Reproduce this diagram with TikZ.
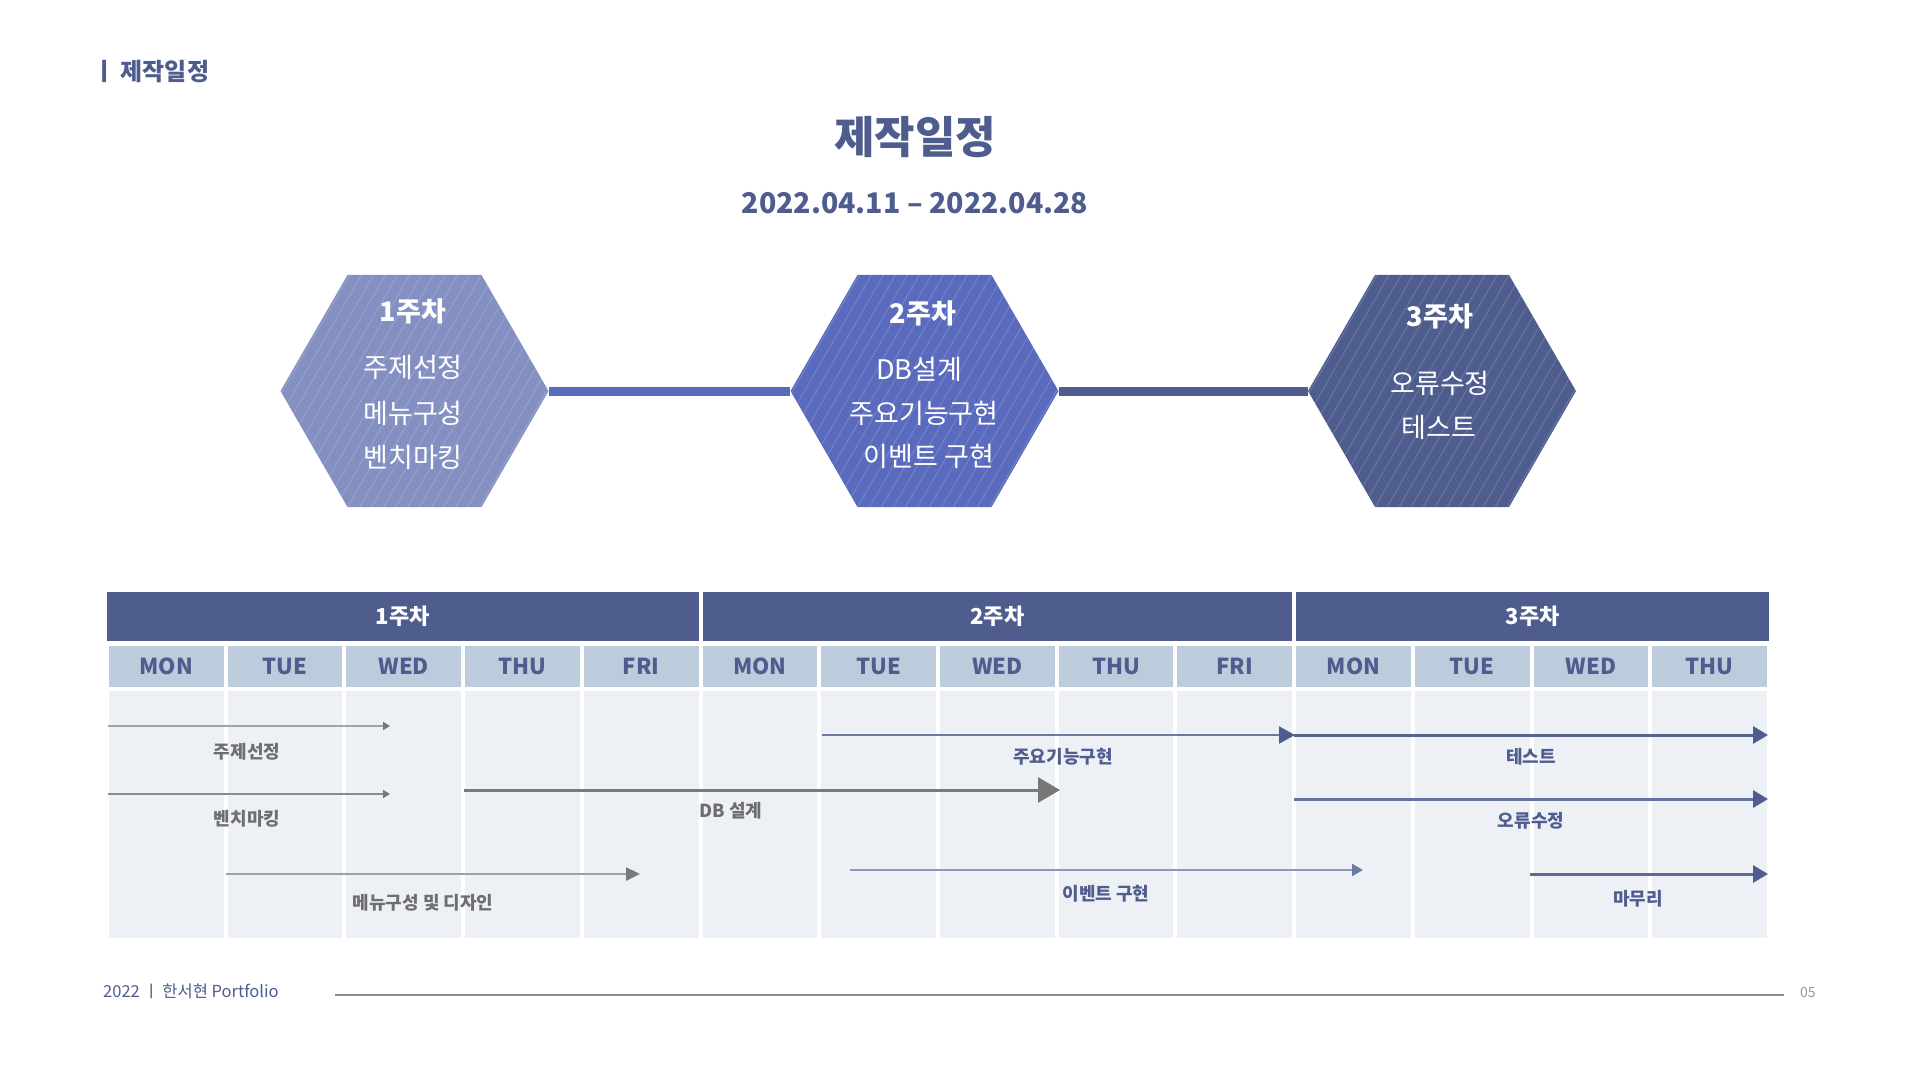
\documentclass[tikz,border=0pt]{standalone}
\usepackage{fontspec}
\setmainfont{Noto Sans CJK KR}
\usetikzlibrary{shapes.geometric,arrows.meta}
\definecolor{navy}{HTML}{4F5D8E}
\definecolor{hexA}{HTML}{8490C2}
\definecolor{hexB}{HTML}{5A6BBD}
\definecolor{hexC}{HTML}{4F5D8E}
\definecolor{dayrow}{HTML}{BDCCDC}
\definecolor{bodyc}{HTML}{EDF0F5}
\definecolor{greytxt}{HTML}{6E6E6E}
\tikzset{
  hexnode/.style={regular polygon, regular polygon sides=6, minimum size=268pt,
    inner sep=0pt, draw=none, fill=#1,
    path picture={\foreach \k in {-32,...,32}{
      \draw[white, opacity=0.17, line width=0.9pt]
        ([xshift=\k*12pt-90pt, yshift=-156pt]path picture bounding box.center) --
        ([xshift=\k*12pt+90pt, yshift=156pt]path picture bounding box.center);}}},
  hextitle/.style={text=white, inner sep=0pt, font=\fontsize{27}{30}\selectfont\bfseries},
  hexbody/.style={text=white, inner sep=0pt, font=\fontsize{27}{30}\selectfont},
  weekcell/.style={fill=navy, text=white, minimum height=49pt, inner sep=0pt,
    font=\fontsize{22}{24}\selectfont\bfseries},
  daycell/.style={fill=dayrow, text=navy, minimum width=114.7pt, minimum height=41pt,
    inner sep=0pt, font=\fontsize{22}{24}\selectfont\bfseries},
  bodycell/.style={fill=bodyc, minimum width=114.7pt, minimum height=247pt, inner sep=0pt},
  glabel/.style={text=greytxt, inner sep=0pt, font=\fontsize{18}{20}\selectfont\bfseries},
  blabel/.style={text=navy, inner sep=0pt, font=\fontsize{18}{20}\selectfont\bfseries},
}
\begin{document}
\begin{tikzpicture}[x=1pt,y=-1pt]
\useasboundingbox[fill=white] (0,0) rectangle (1920,1080);

% top-left heading
\node[anchor=west, inner sep=0pt, text=navy, font=\fontsize{24}{26}\selectfont\bfseries] (tl) at (93,72) {ㅣ 제작일정};

% title
\node[text=navy, inner sep=0pt, font=\fontsize{44}{48}\selectfont\bfseries] (title) at (915,137) {제작일정};
\node[text=navy, inner sep=0pt, font=\fontsize{28.5}{32}\selectfont\bfseries] (date) at (915,203) {2022.04.11 – 2022.04.28};

% hexagons
\node[hexnode=hexA] (h1) at (414.5,391) {};
\node[hexnode=hexB] (h2) at (924.5,391) {};
\node[hexnode=hexC] (h3) at (1442,391) {};
\draw[line width=9pt, hexB] (h1.east) -- (h2.west);
\draw[line width=9pt, hexC] (h2.east) -- (h3.west);

\node[hextitle] (h1t) at (413,311) {1주차};
\node[hexbody] (h1a) at (413,367) {주제선정};
\node[hexbody] (h1b) at (413,413) {메뉴구성};
\node[hexbody] (h1c) at (413,457) {벤치마킹};

\node[hextitle] (h2t) at (923,313) {2주차};
\node[hexbody] (h2a) at (919,369) {DB설계};
\node[hexbody] (h2b) at (924,413) {주요기능구현};
\node[hexbody] (h2c) at (929,456) {이벤트 구현};

\node[hextitle] (h3t) at (1440,316) {3주차};
\node[hexbody] (h3a) at (1440,383) {오류수정};
\node[hexbody] (h3b) at (1439,427) {테스트};

% table header
\node[weekcell, minimum width=591.6pt] (w1) at (402.8,616.5) {1주차};
\node[weekcell, minimum width=589.6pt] (w2) at (997.4,616.5) {2주차};
\node[weekcell, minimum width=472.9pt] (w3) at (1532.6,616.5) {3주차};

\foreach \i/\d in {0/MON,1/TUE,2/WED,3/THU,4/FRI,5/MON,6/TUE,7/WED,8/THU,9/FRI,10/MON,11/TUE,12/WED,13/THU}{
  \node[daycell] (d\i) at ({107+(\i+0.5)*118.714},666.5) {\d};
  \node[bodycell] (b\i) at ({107+(\i+0.5)*118.714},814.5) {};
}

% gantt arrows
\coordinate (a1s) at (108,726);  \coordinate (a1e) at (390,726);
\coordinate (a2s) at (108,794);  \coordinate (a2e) at (390,794);
\coordinate (a3s) at (226,874);  \coordinate (a3e) at (640,874);
\coordinate (a4s) at (464,790);  \coordinate (a4e) at (1060,790);
\coordinate (a5s) at (822,735);  \coordinate (a5e) at (1295,735);
\coordinate (a6s) at (1294,735); \coordinate (a6e) at (1768,735);
\coordinate (a7s) at (1294,799); \coordinate (a7e) at (1768,799);
\coordinate (a8s) at (850,870);  \coordinate (a8e) at (1363,870);
\coordinate (a9s) at (1530,874); \coordinate (a9e) at (1768,874);

\draw[line width=2pt, color={rgb,255:red,163;green,163;blue,163},
  -{Triangle[length=7pt,width=8pt,color={rgb,255:red,120;green,120;blue,120}]}] (a1s) -- (a1e);
\draw[line width=2pt, color={rgb,255:red,138;green,138;blue,138},
  -{Triangle[length=7pt,width=8pt,color={rgb,255:red,120;green,120;blue,120}]}] (a2s) -- (a2e);
\draw[line width=2.5pt, color={rgb,255:red,160;green,160;blue,160},
  -{Triangle[length=14pt,width=13pt,color={rgb,255:red,122;green,122;blue,122}]}] (a3s) -- (a3e);
\draw[line width=3pt, color={rgb,255:red,122;green,122;blue,122},
  -{Triangle[length=22pt,width=25pt,color={rgb,255:red,119;green,119;blue,119}]}] (a4s) -- (a4e);
\draw[line width=2pt, color={rgb,255:red,108;green,122;blue,165},
  -{Triangle[length=16pt,width=17pt,color=navy]}] (a5s) -- (a5e);
\draw[line width=3pt, color={rgb,255:red,86;green,99;blue,143},
  -{Triangle[length=15pt,width=17pt,color=navy]}] (a6s) -- (a6e);
\draw[line width=3pt, color={rgb,255:red,100;green,114;blue,160},
  -{Triangle[length=15pt,width=17pt,color=navy]}] (a7s) -- (a7e);
\draw[line width=2.5pt, color={rgb,255:red,140;green,152;blue,186},
  -{Triangle[length=11pt,width=12pt,color={rgb,255:red,109;green,122;blue,165}]}] (a8s) -- (a8e);
\draw[line width=3pt, color={rgb,255:red,93;green,106;blue,152},
  -{Triangle[length=15pt,width=17pt,color=navy]}] (a9s) -- (a9e);

\node[glabel] (l1) at (247,752) {주제선정};
\node[glabel] (l2) at (247,819) {벤치마킹};
\node[glabel] (l3) at (423,903) {메뉴구성 및 디자인};
\node[glabel] (l4) at (731,811) {DB 설계};
\node[blabel] (l5) at (1063,757) {주요기능구현};
\node[blabel] (l6) at (1531,757) {테스트};
\node[blabel] (l7) at (1531,821) {오류수정};
\node[blabel] (l8) at (1106,894) {이벤트 구현};
\node[blabel] (l9) at (1638,899) {마무리};

% footer
\node[anchor=west, inner sep=0pt, text=navy, font=\fontsize{16.5}{18}\selectfont] (ft) at (103,991) {2022 ㅣ 한서현 Portfolio};
\coordinate (fl) at (335,995);
\coordinate (fr) at (1784,995);
\draw[line width=1.8pt, color={rgb,255:red,140;green,140;blue,140}] (fl) -- (fr);
\node[anchor=west, inner sep=0pt, text={rgb,255:red,150;green,150;blue,150}, font=\fontsize{14}{16}\selectfont] (pg) at (1800,992) {05};
\end{tikzpicture}
\end{document}
